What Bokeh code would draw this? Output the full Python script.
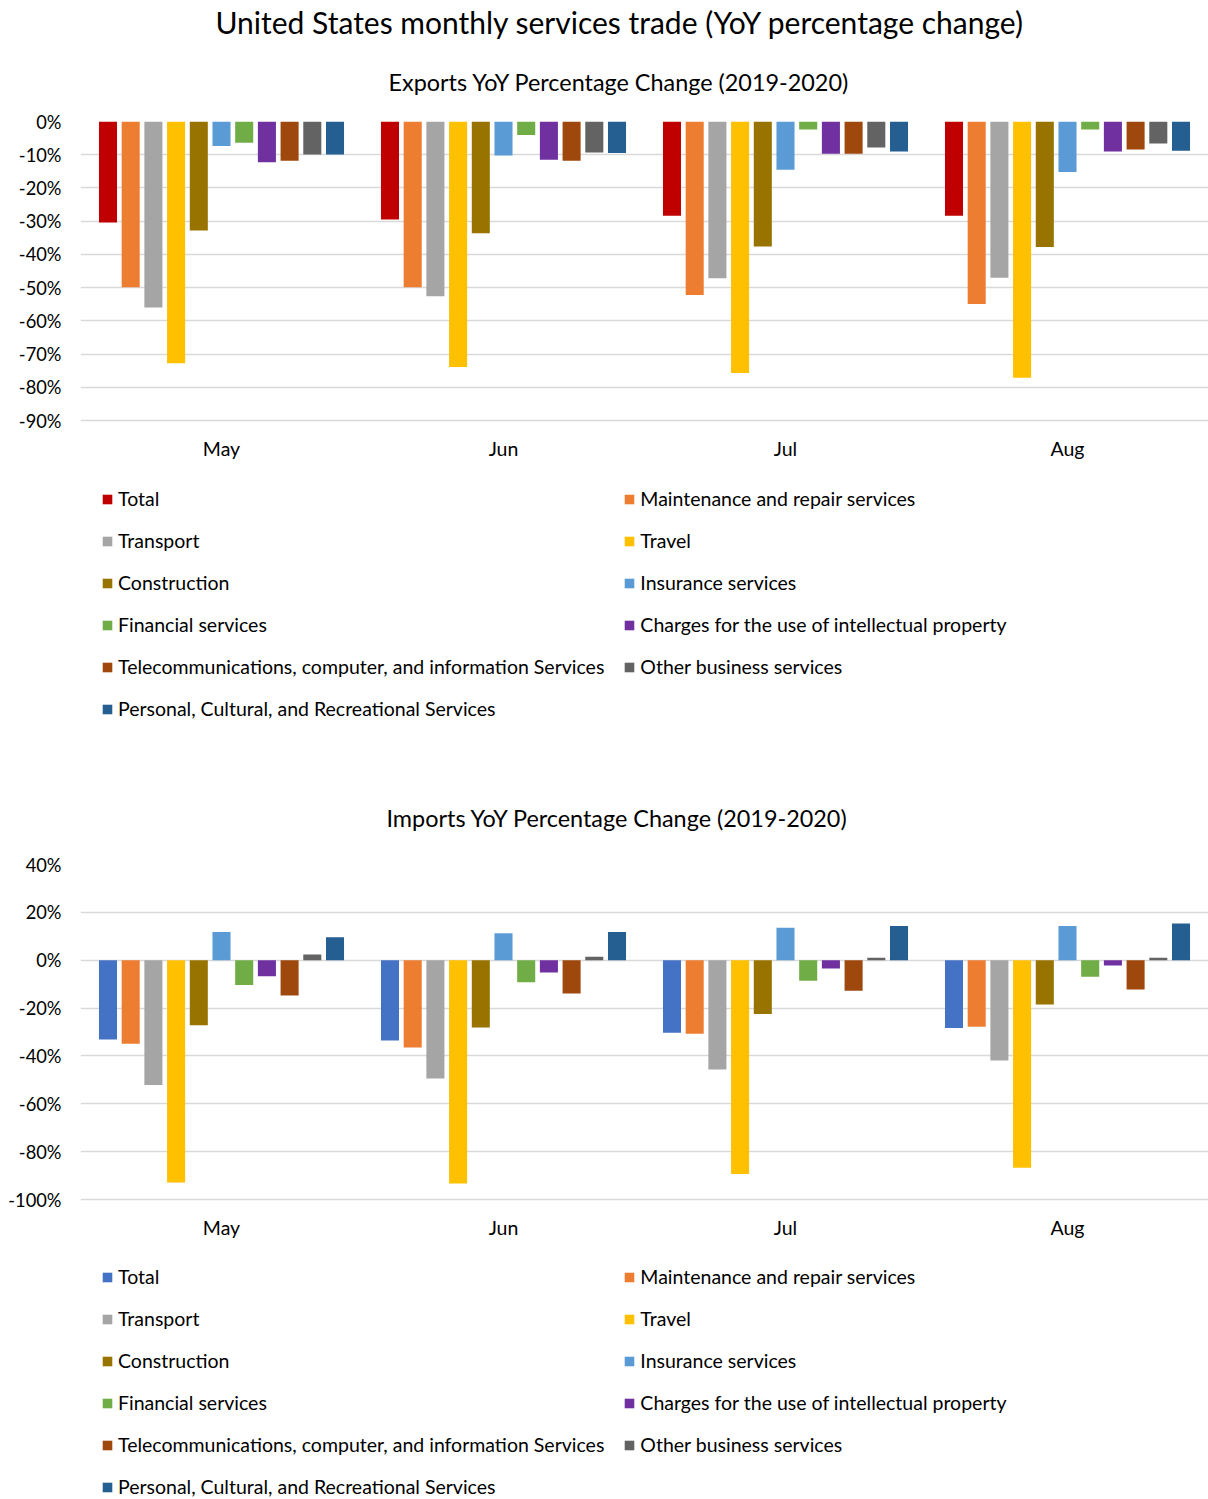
from bokeh.plotting import figure
from bokeh.models import (FactorRange, Range1d, FixedTicker, NumeralTickFormatter,
                          Legend, LegendItem, Title, ColumnDataSource)
from bokeh.transform import dodge
from bokeh.layouts import column
from bokeh.embed import file_html
from bokeh.resources import INLINE

FONT = "Lato"

months = ["May", "Jun", "Jul", "Aug"]
series = [
    "Total",
    "Maintenance and repair services",
    "Transport",
    "Travel",
    "Construction",
    "Insurance services",
    "Financial services",
    "Charges for the use of intellectual property",
    "Telecommunications, computer, and information Services",
    "Other business services",
    "Personal, Cultural, and Recreational Services",
]

# Exports YoY % change (May, Jun, Jul, Aug)
exp_total = [-30.4, -29.5, -28.4, -28.4]
exp_maint = [-49.9, -49.9, -52.2, -54.9]
exp_transport = [-56.0, -52.6, -47.2, -47.0]
exp_travel = [-72.8, -73.9, -75.7, -77.1]
exp_construction = [-32.8, -33.6, -37.6, -37.8]
exp_insurance = [-7.4, -10.2, -14.5, -15.2]
exp_financial = [-6.4, -4.1, -2.4, -2.4]
exp_charges = [-12.3, -11.5, -9.7, -9.0]
exp_telecom = [-11.8, -11.8, -9.7, -8.4]
exp_other = [-9.9, -9.3, -7.8, -6.6]
exp_personal = [-9.9, -9.5, -9.0, -8.8]

# Imports YoY % change (May, Jun, Jul, Aug)
imp_total = [-33.1, -33.6, -30.3, -28.3]
imp_maint = [-34.9, -36.5, -30.7, -27.8]
imp_transport = [-52.1, -49.4, -45.7, -41.9]
imp_travel = [-92.9, -93.3, -89.3, -86.7]
imp_construction = [-27.2, -28.1, -22.5, -18.5]
imp_insurance = [11.8, 11.3, 13.6, 14.3]
imp_financial = [-10.4, -9.2, -8.6, -6.9]
imp_charges = [-6.7, -5.1, -3.5, -2.2]
imp_telecom = [-14.7, -13.9, -12.8, -12.2]
imp_other = [2.4, 1.5, 1.0, 1.0]
imp_personal = [9.6, 11.8, 14.3, 15.3]

exports = [exp_total, exp_maint, exp_transport, exp_travel, exp_construction,
           exp_insurance, exp_financial, exp_charges, exp_telecom, exp_other, exp_personal]
imports = [imp_total, imp_maint, imp_transport, imp_travel, imp_construction,
           imp_insurance, imp_financial, imp_charges, imp_telecom, imp_other, imp_personal]

exp_colors = ["#C00000", "#ED7D31", "#A5A5A5", "#FFC000", "#997300", "#5B9BD5",
              "#70AD47", "#7030A0", "#9E480E", "#636363", "#255E91"]
imp_colors = ["#4472C4", "#ED7D31", "#A5A5A5", "#FFC000", "#997300", "#5B9BD5",
              "#70AD47", "#7030A0", "#9E480E", "#636363", "#255E91"]

exp_ticks = [-0.9, -0.8, -0.7, -0.6, -0.5, -0.4, -0.3, -0.2, -0.1, 0.0]
imp_ticks = [-1.0, -0.8, -0.6, -0.4, -0.2, 0.0, 0.2, 0.4]

LEFT = 80
W = 1208


def make(sub, sub_offset, sub_standoff, data, colors, ticks, axis_min, y_start, y_end,
         height, top, legend_y, main=None, main_offset=0):
    p = figure(x_range=FactorRange(*months), y_range=Range1d(y_start, y_end),
               width=W, height=height, output_backend="svg", toolbar_location=None,
               min_border_left=LEFT, min_border_right=0, min_border_top=top,
               min_border_bottom=0)
    p.outline_line_color = None
    sub_title = Title(text=sub, align="left", offset=sub_offset, text_font=FONT,
                      text_font_size="23.4px", text_font_style="normal",
                      text_color="#000000", standoff=sub_standoff)
    if main is not None:
        p.title.text = main
        p.title.align = "left"
        p.title.offset = main_offset
        p.title.text_font = FONT
        p.title.text_font_size = "30px"
        p.title.text_font_style = "normal"
        p.title.text_color = "#000000"
        p.title.standoff = 0
        p.add_layout(sub_title, "above")
    else:
        p.title = sub_title

    items = []
    for i, (name, vals, c) in enumerate(zip(series, data, colors)):
        src = ColumnDataSource(dict(x=months, y=[v / 100 for v in vals]))
        r = p.vbar(x=dodge("x", (i - 5) * 0.0805, range=p.x_range), top="y", bottom=0,
                   width=0.064, source=src, fill_color=c, line_color=None)
        items.append(LegendItem(label=name, renderers=[r]))

    tick = FixedTicker(ticks=ticks)
    p.xgrid.grid_line_color = None
    p.ygrid.ticker = tick
    p.ygrid.grid_line_color = "#D9D9D9"
    p.ygrid.grid_line_width = 1.5
    p.yaxis.ticker = tick
    p.yaxis.formatter = NumeralTickFormatter(format="0%")
    for ax in (p.xaxis[0], p.yaxis[0]):
        ax.axis_line_color = None
        ax.major_tick_line_color = None
        ax.minor_tick_line_color = None
        ax.major_tick_out = 0
        ax.major_tick_in = 0
        ax.major_label_text_font = FONT
        ax.major_label_text_color = "#000000"
    p.yaxis.major_label_text_font_size = "18.3px"
    p.yaxis.major_label_standoff = 19
    p.xaxis.major_label_text_font_size = "19.5px"
    p.xaxis.major_label_standoff = 16
    p.xaxis.fixed_location = axis_min

    leg = Legend(items=items, orientation="horizontal", ncols=2,
                 location=(21, legend_y), margin=0, padding=0, spacing=19,
                 glyph_width=12, glyph_height=12, label_height=22, label_standoff=5,
                 label_text_font=FONT, label_text_font_size="19.5px",
                 label_text_color="#000000",
                 border_line_color=None, background_fill_alpha=0)
    p.add_layout(leg, "center")
    return p


H1 = 750
H2 = 1499 - H1
# exports: 0% at 121 px, -90% at 420 px; frame runs down to the bottom of the figure
s1 = (420 - 121) / 0.9
p1 = make("Exports YoY Percentage Change (2019-2020)", 388 - LEFT, 52, exports, exp_colors,
          exp_ticks, -0.9, -(H1 - 121) / s1, 0.0, H1, 121, H1 - 720,
          main="United States monthly services trade (YoY percentage change)",
          main_offset=215 - LEFT)
# imports: 40% at 864 px, -100% at 1199 px
s2 = (1199 - 864) / 1.4
p2 = make("Imports YoY Percentage Change (2019-2020)", 386 - LEFT, 66, imports, imp_colors,
          imp_ticks, -1.0, 0.4 - (1499 - 864) / s2, 0.4, H2, 864 - H1, 1)

layout = column(p1, p2, spacing=0)
open("out.html", "w").write(file_html(layout, INLINE))
